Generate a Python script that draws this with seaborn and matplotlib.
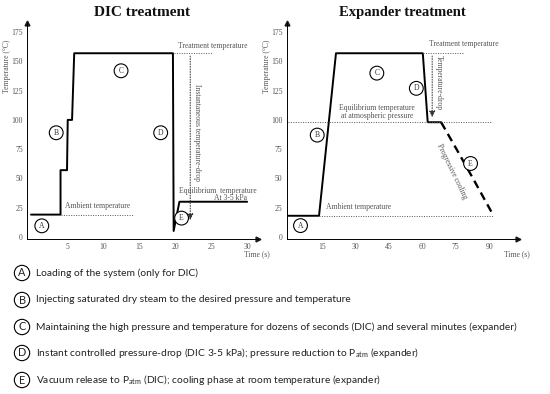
import numpy as np
import pandas as pd
import seaborn as sns
import matplotlib.pyplot as plt

# DIC curve (time s, temperature C)
dic_time = [0, 4.1, 4.1, 5.0, 5.1, 5.7, 6.0, 19.7, 19.8, 20.6, 30]
dic_temp = [19, 19, 57, 57, 100, 100, 157, 157, 5, 30, 30]

# expander curve, solid part and dashed cooling part
exp_time = [0, 13.8, 21.4, 60.3, 62.5, 68.5]
exp_temp = [18, 18, 157, 157, 98, 98]
cool_time = [68.5, 75.7, 83.2, 91.8]
cool_temp = [98, 74, 48.5, 18.7]

yticks = [0, 25, 50, 75, 100, 125, 150, 175]
dic_xticks = [5, 10, 15, 20, 25, 30]
exp_xticks = [15, 30, 45, 60, 75, 90]

legend_letters = ["A", "B", "C", "D", "E"]
legend_texts = [
    "Loading of the system (only for DIC)",
    "Injecting saturated dry steam to the desired pressure and temperature",
    "Maintaining the high pressure and temperature for dozens of seconds (DIC) and several minutes (expander)",
    "Instant controlled pressure-drop (DIC 3-5 kPa); pressure reduction to P$_{\\mathregular{atm}}$ (expander)",
    "Vacuum release to P$_{\\mathregular{atm}}$ (DIC); cooling phase at room temperature (expander)",
]

sns.set_theme(style="white")
plt.rcParams['font.family'] = ['Liberation Serif', 'DejaVu Serif']
plt.rcParams['mathtext.fontset'] = 'custom'
plt.rcParams['mathtext.rm'] = 'Lato'

fig = plt.figure(figsize=(5.5, 3.94), dpi=100)
ax1 = fig.add_axes([0.049, 0.393, 0.420, 0.549])
ax2 = fig.add_axes([0.521, 0.393, 0.421, 0.549])

grey = "#555555"
small = 5.5


def setup(ax, xlim, xticks, title, tsize):
    ax.set_xlim(*xlim)
    ax.set_ylim(-2, 183)
    ax.set_xticks(xticks)
    ax.set_yticks(yticks)
    ax.tick_params(length=0, labelsize=small, labelcolor=grey, pad=3)
    for s in ["top", "right"]:
        ax.spines[s].set_visible(False)
    for s in ["left", "bottom"]:
        ax.spines[s].set_color("black")
        ax.spines[s].set_linewidth(0.7)
    ax.plot(1, 0, ">k", ms=3.5, transform=ax.transAxes, clip_on=False)
    ax.plot(0, 1, "^k", ms=3.5, transform=ax.transAxes, clip_on=False)
    ax.set_xlabel("")
    ax.set_ylabel("")
    ax.text(0.995, -0.07, "Time (s)", transform=ax.transAxes, fontsize=small,
            color=grey, ha="center", va="center")
    ax.text(-0.085, 0.8, "Temperature (\u00b0C)", transform=ax.transAxes,
            fontsize=small, color=grey, rotation=90, ha="center", va="center")
    ax.text(0.5, 1.048, title, transform=ax.transAxes, fontsize=tsize,
            fontweight="bold", ha="center", va="center", color="#111111")


def circ(ax, x, y, letter):
    ax.text(x, y, letter, fontsize=5.5, ha="center", va="center", color="#333333",
            bbox=dict(boxstyle="circle,pad=0.38", fc="white", ec="black", lw=0.8))


dot = dict(color=grey, ls=(0, (1, 1.5)), lw=0.7)

# ---- DIC ----
setup(ax1, (-0.56, 31.5), dic_xticks, "DIC treatment", 11)
sns.lineplot(x=dic_time, y=dic_temp, ax=ax1, color="black", lw=1.4,
             estimator=None, sort=False)
ax1.plot([4.1, 14.3], [19, 19], **dot)
ax1.plot([19.8, 25.1], [157, 157], **dot)
ax1.annotate("", xy=(22.1, 12), xytext=(22.1, 157),
             arrowprops=dict(arrowstyle="-|>,head_width=0.15,head_length=0.3",
                             color="#333333", ls=":", lw=0.7))
ax1.text(9.2, 23, "Ambient temperature", fontsize=small, color=grey, ha="center", va="bottom")
ax1.text(25.2, 163, "Treatment temperature", fontsize=small, color=grey, ha="center", va="center")
ax1.text(23.1, 89, "Instantaneous temperature-drop", fontsize=small, color=grey,
         rotation=-90, ha="center", va="center")
ax1.text(25.9, 39.5, "Equilibrium  temperature", fontsize=small, color=grey,
         ha="center", va="center")
ax1.text(30, 33.5, "At 3-5 kPa", fontsize=small, color=grey, ha="right", va="center")
circ(ax1, 1.5, 9.4, "A")
circ(ax1, 3.5, 89, "B")
circ(ax1, 12.5, 142, "C")
circ(ax1, 18.0, 89, "D")
circ(ax1, 20.9, 16, "E")

# ---- expander ----
setup(ax2, (-0.75, 103), exp_xticks, "Expander treatment", 10.5)
sns.lineplot(x=exp_time, y=exp_temp, ax=ax2, color="black", lw=1.4,
             estimator=None, sort=False)
sns.lineplot(x=cool_time, y=cool_temp, ax=ax2, color="black", lw=1.7,
             estimator=None, sort=False, dashes=False)
ax2.lines[-1].set_dashes((3.5, 2.2))
ax2.plot([13.8, 91.8], [18, 18], **dot)
ax2.plot([0, 91.5], [98, 98], **dot)
ax2.plot([60.3, 78.7], [157, 157], **dot)
ax2.annotate("", xy=(64.5, 100), xytext=(64.5, 157),
             arrowprops=dict(arrowstyle="-|>,head_width=0.15,head_length=0.3",
                             color="#333333", ls=":", lw=0.7))
ax2.text(31.5, 22, "Ambient temperature", fontsize=small, color=grey, ha="center", va="bottom")
ax2.text(78.7, 164.5, "Treatment temperature", fontsize=small, color=grey, ha="center", va="center")
ax2.text(67.6, 132, "Temperature-drop", fontsize=small, color=grey,
         rotation=-90, ha="center", va="center")
ax2.text(39.7, 107, "Equilibrium temperature\nat atmospheric pressure", fontsize=small,
         color=grey, ha="center", va="center", linespacing=1.0)
ax2.text(73.5, 56, "Progressive cooling", fontsize=small, color=grey,
         rotation=-64, ha="center", va="center")
circ(ax2, 5.5, 9.6, "A")
circ(ax2, 13.0, 87, "B")
circ(ax2, 39.7, 140, "C")
circ(ax2, 57.4, 127, "D")
circ(ax2, 81.7, 62.7, "E")

# ---- legend at the bottom ----
rows_y = [273, 300, 327, 353, 380]
for letter, txt, yp in zip(legend_letters, legend_texts, rows_y):
    yf = 1 - yp / 394
    fig.text(22 / 550, yf, letter, fontsize=7.8, family="Lato", color="#222222",
             ha="center", va="center",
             bbox=dict(boxstyle="circle,pad=0.2", fc="white", ec="black", lw=0.8))
    fig.text(36 / 550, yf, txt, fontsize=7.4, family="Lato", color="#222222",
             ha="left", va="center")

fig.savefig("out.png", dpi=100, facecolor="white")
